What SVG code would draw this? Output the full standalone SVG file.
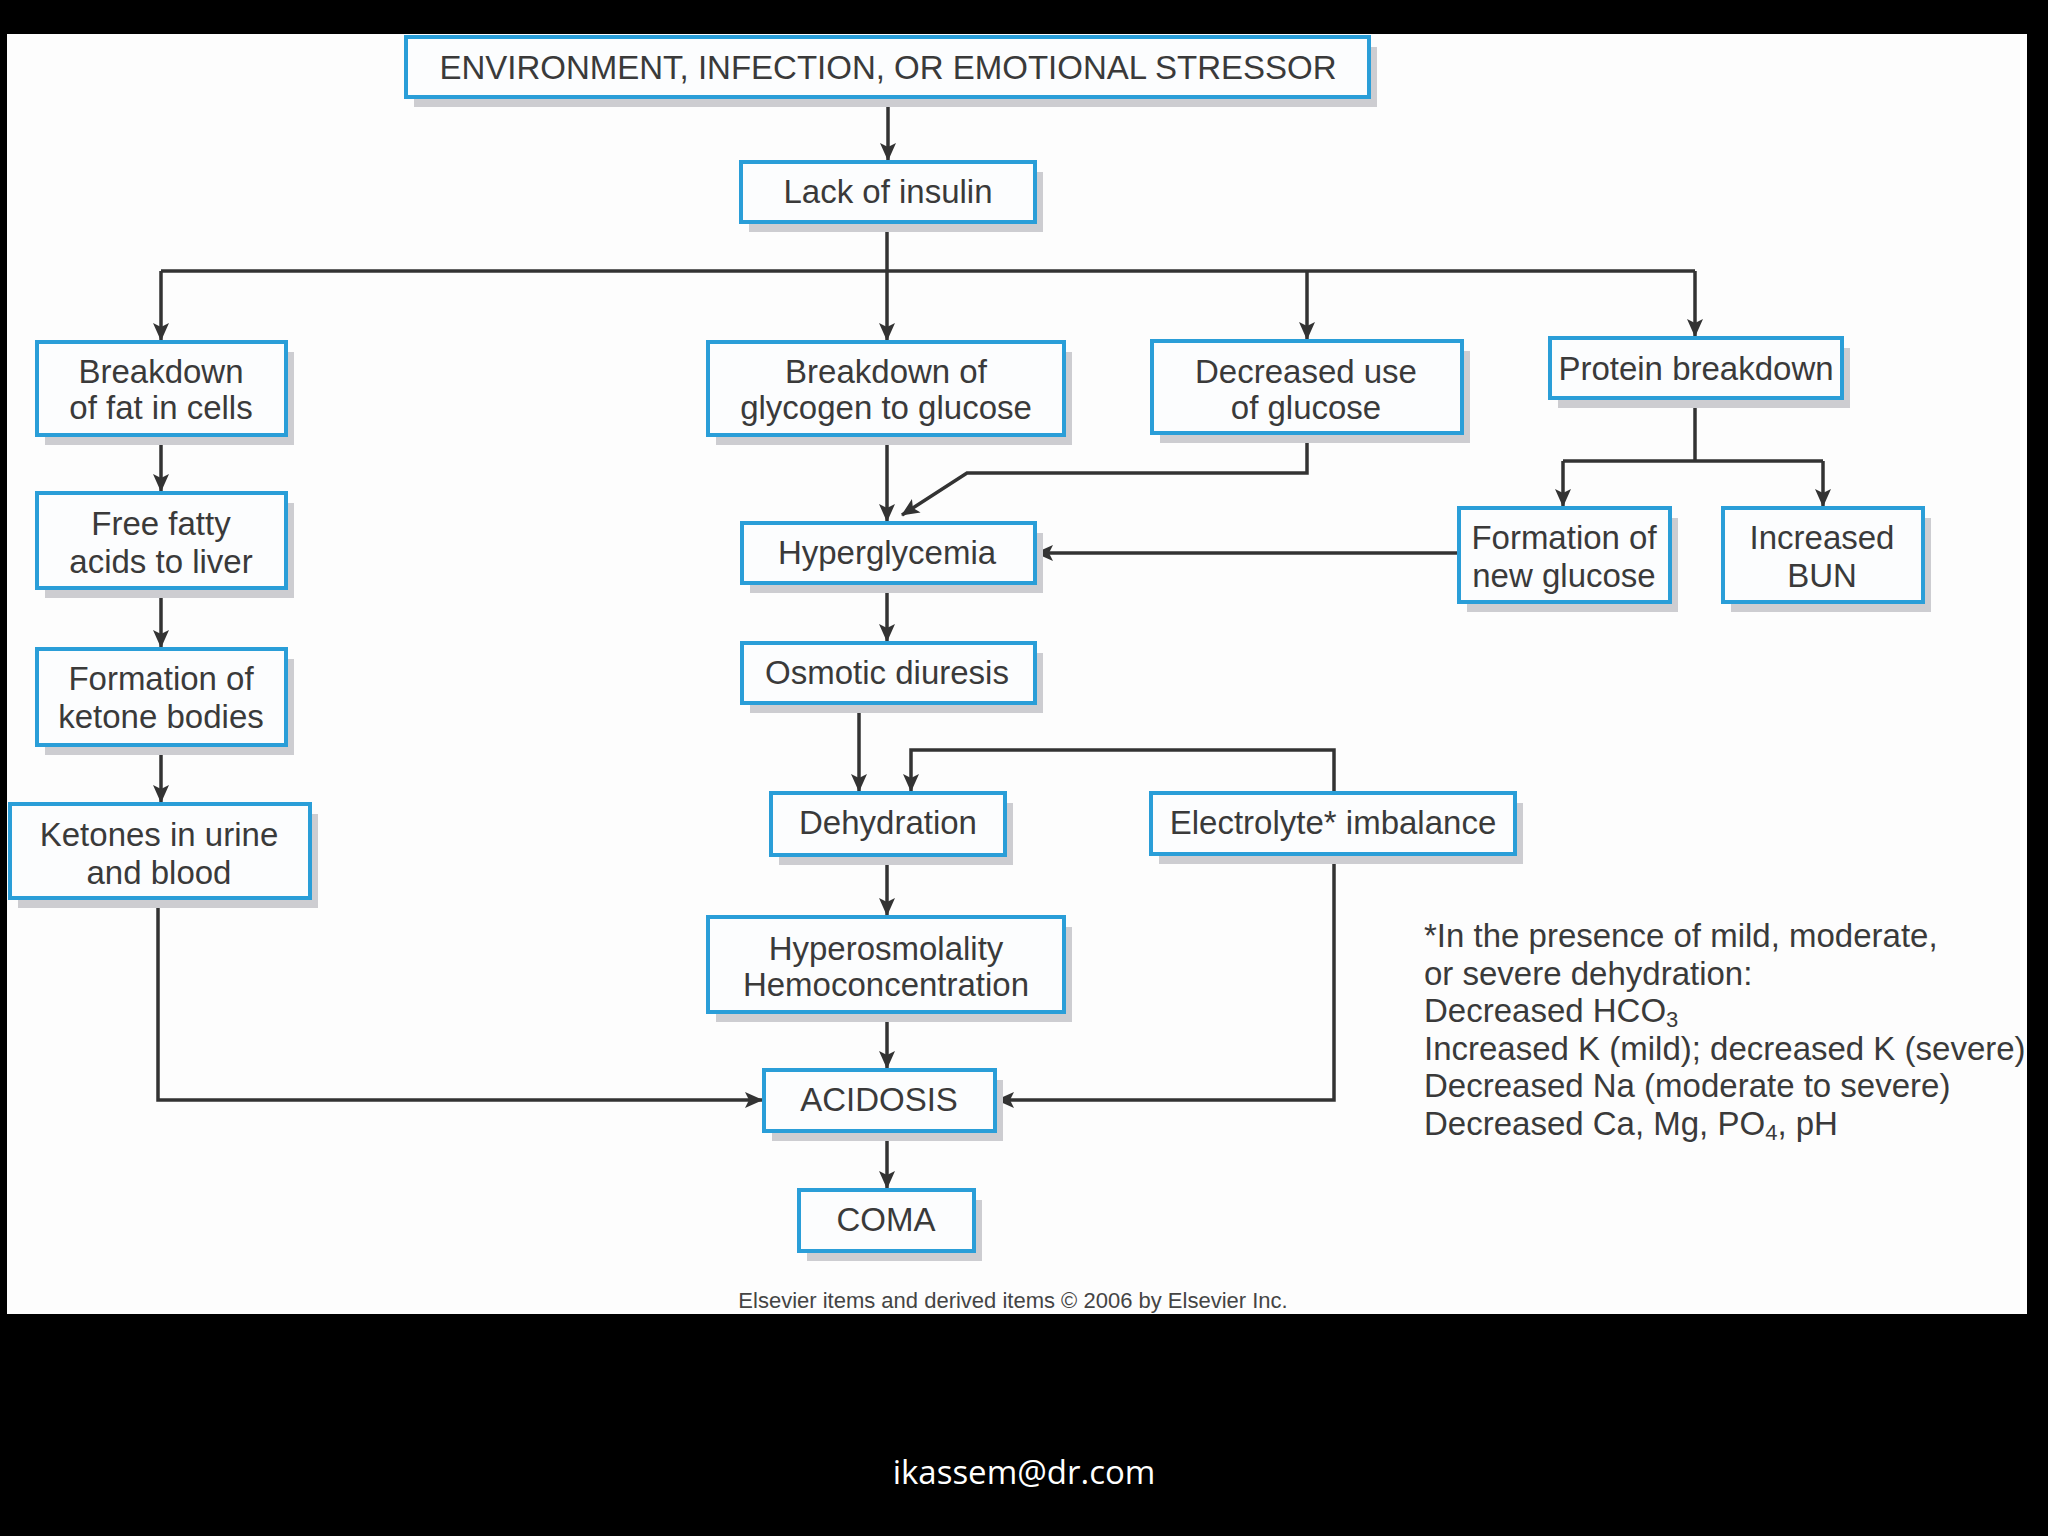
<svg xmlns="http://www.w3.org/2000/svg" width="2048" height="1536" viewBox="0 0 2048 1536">
<style>
.box{fill:#fcfdfe;stroke:#2a9ed8;stroke-width:4}
.sh{fill:#cdcdd1}
.t{font-family:"Liberation Sans",Arial,sans-serif;font-size:33px;fill:#3a3a3a;text-anchor:middle}
.fn{font-family:"Liberation Sans",Arial,sans-serif;font-size:33px;fill:#3a3a3a}
.c{fill:none;stroke:#333;stroke-width:3.5}
</style>
<defs>
<marker id="ah" markerUnits="userSpaceOnUse" markerWidth="18" markerHeight="16" viewBox="0 0 18 16" refX="17" refY="8" orient="auto">
<path d="M0,0 L18,8 L0,16 L4,8 Z" fill="#333"/>
</marker>
</defs>
<rect x="0" y="0" width="2048" height="1536" fill="#000"/>
<rect x="7" y="34" width="2020" height="1280" fill="#fdfdfd"/>

<g id="connectors">
<path class="c" d="M888,97 V160" marker-end="url(#ah)"/>
<path class="c" d="M887,222 V271"/>
<path class="c" d="M161,271 H1695"/>
<path class="c" d="M161,271 V340" marker-end="url(#ah)"/>
<path class="c" d="M887,271 V340" marker-end="url(#ah)"/>
<path class="c" d="M1307,271 V339" marker-end="url(#ah)"/>
<path class="c" d="M1695,271 V336" marker-end="url(#ah)"/>
<path class="c" d="M161,435 V491" marker-end="url(#ah)"/>
<path class="c" d="M161,588 V647" marker-end="url(#ah)"/>
<path class="c" d="M161,745 V802" marker-end="url(#ah)"/>
<path class="c" d="M158,898 V1100 H762" marker-end="url(#ah)"/>
<path class="c" d="M887,435 V521" marker-end="url(#ah)"/>
<path class="c" d="M1307,433 V473 H967 L902,515" marker-end="url(#ah)"/>
<path class="c" d="M1695,398 V461"/>
<path class="c" d="M1563,461 H1823"/>
<path class="c" d="M1563,461 V506" marker-end="url(#ah)"/>
<path class="c" d="M1823,461 V506" marker-end="url(#ah)"/>
<path class="c" d="M1459,553 H1036" marker-end="url(#ah)"/>
<path class="c" d="M887,583 V641" marker-end="url(#ah)"/>
<path class="c" d="M859,703 V791" marker-end="url(#ah)"/>
<path class="c" d="M1334,793 V750 H911 V791" marker-end="url(#ah)"/>
<path class="c" d="M887,855 V915" marker-end="url(#ah)"/>
<path class="c" d="M887,1012 V1068" marker-end="url(#ah)"/>
<path class="c" d="M1334,854 V1100 H997" marker-end="url(#ah)"/>
<path class="c" d="M887,1131 V1188" marker-end="url(#ah)"/>
</g>

<g id="n-env"><rect class="sh" x="414" y="47" width="963" height="60"/><rect class="box" x="406" y="37" width="963" height="60"/><text class="t" x="888" y="79">ENVIRONMENT, INFECTION, OR EMOTIONAL STRESSOR</text></g>
<g id="n-lack"><rect class="sh" x="749" y="172" width="294" height="60"/><rect class="box" x="741" y="162" width="294" height="60"/><text class="t" x="888" y="203">Lack of insulin</text></g>
<g id="n-fat"><rect class="sh" x="45" y="352" width="249" height="93"/><rect class="box" x="37" y="342" width="249" height="93"/><text class="t" x="161" y="383">Breakdown</text><text class="t" x="161" y="419">of fat in cells</text></g>
<g id="n-glycogen"><rect class="sh" x="716" y="352" width="356" height="93"/><rect class="box" x="708" y="342" width="356" height="93"/><text class="t" x="886" y="383">Breakdown of</text><text class="t" x="886" y="419">glycogen to glucose</text></g>
<g id="n-decuse"><rect class="sh" x="1160" y="351" width="310" height="92"/><rect class="box" x="1152" y="341" width="310" height="92"/><text class="t" x="1306" y="383">Decreased use</text><text class="t" x="1306" y="419">of glucose</text></g>
<g id="n-protein"><rect class="sh" x="1558" y="348" width="292" height="60"/><rect class="box" x="1550" y="338" width="292" height="60"/><text class="t" x="1696" y="380">Protein breakdown</text></g>
<g id="n-ffa"><rect class="sh" x="45" y="503" width="249" height="95"/><rect class="box" x="37" y="493" width="249" height="95"/><text class="t" x="161" y="535">Free fatty</text><text class="t" x="161" y="573">acids to liver</text></g>
<g id="n-ketone"><rect class="sh" x="45" y="659" width="249" height="96"/><rect class="box" x="37" y="649" width="249" height="96"/><text class="t" x="161" y="690">Formation of</text><text class="t" x="161" y="728">ketone bodies</text></g>
<g id="n-urine"><rect class="sh" x="18" y="814" width="300" height="94"/><rect class="box" x="10" y="804" width="300" height="94"/><text class="t" x="159" y="846">Ketones in urine</text><text class="t" x="159" y="884">and blood</text></g>
<g id="n-hyperg"><rect class="sh" x="750" y="533" width="293" height="60"/><rect class="box" x="742" y="523" width="293" height="60"/><text class="t" x="887" y="564">Hyperglycemia</text></g>
<g id="n-newglucose"><rect class="sh" x="1467" y="518" width="211" height="94"/><rect class="box" x="1459" y="508" width="211" height="94"/><text class="t" x="1564" y="549">Formation of</text><text class="t" x="1564" y="587">new glucose</text></g>
<g id="n-bun"><rect class="sh" x="1731" y="518" width="200" height="94"/><rect class="box" x="1723" y="508" width="200" height="94"/><text class="t" x="1822" y="549">Increased</text><text class="t" x="1822" y="587">BUN</text></g>
<g id="n-osmotic"><rect class="sh" x="750" y="653" width="293" height="60"/><rect class="box" x="742" y="643" width="293" height="60"/><text class="t" x="887" y="684">Osmotic diuresis</text></g>
<g id="n-dehyd"><rect class="sh" x="779" y="803" width="234" height="62"/><rect class="box" x="771" y="793" width="234" height="62"/><text class="t" x="888" y="834">Dehydration</text></g>
<g id="n-electro"><rect class="sh" x="1159" y="803" width="364" height="61"/><rect class="box" x="1151" y="793" width="364" height="61"/><text class="t" x="1333" y="834">Electrolyte* imbalance</text></g>
<g id="n-hyperosm"><rect class="sh" x="716" y="927" width="356" height="95"/><rect class="box" x="708" y="917" width="356" height="95"/><text class="t" x="886" y="960">Hyperosmolality</text><text class="t" x="886" y="996">Hemoconcentration</text></g>
<g id="n-acidosis"><rect class="sh" x="772" y="1080" width="231" height="61"/><rect class="box" x="764" y="1070" width="231" height="61"/><text class="t" x="879" y="1111">ACIDOSIS</text></g>
<g id="n-coma"><rect class="sh" x="807" y="1200" width="175" height="61"/><rect class="box" x="799" y="1190" width="175" height="61"/><text class="t" x="886" y="1231">COMA</text></g>

<g id="footnote">
<text class="fn" x="1424" y="947">*In the presence of mild, moderate,</text>
<text class="fn" x="1424" y="985">or severe dehydration:</text>
<text class="fn" x="1424" y="1022">Decreased HCO<tspan font-size="22" dy="5">3</tspan></text>
<text class="fn" x="1424" y="1060">Increased K (mild); decreased K (severe)</text>
<text class="fn" x="1424" y="1097">Decreased Na (moderate to severe)</text>
<text class="fn" x="1424" y="1135">Decreased Ca, Mg, PO<tspan font-size="22" dy="5">4</tspan><tspan dy="-5">, pH</tspan></text>
</g>
<text x="1013" y="1308" font-family="Liberation Sans, Arial, sans-serif" font-size="22" fill="#444" text-anchor="middle">Elsevier items and derived items © 2006 by Elsevier Inc.</text>
<rect x="2027" y="34" width="21" height="1280" fill="#000"/>
<rect x="0" y="1314" width="2048" height="222" fill="#000"/>
<text x="1024" y="1484" font-family="Open Sans, sans-serif" font-size="33" fill="#fff" text-anchor="middle">ikassem@dr.com</text>
</svg>
